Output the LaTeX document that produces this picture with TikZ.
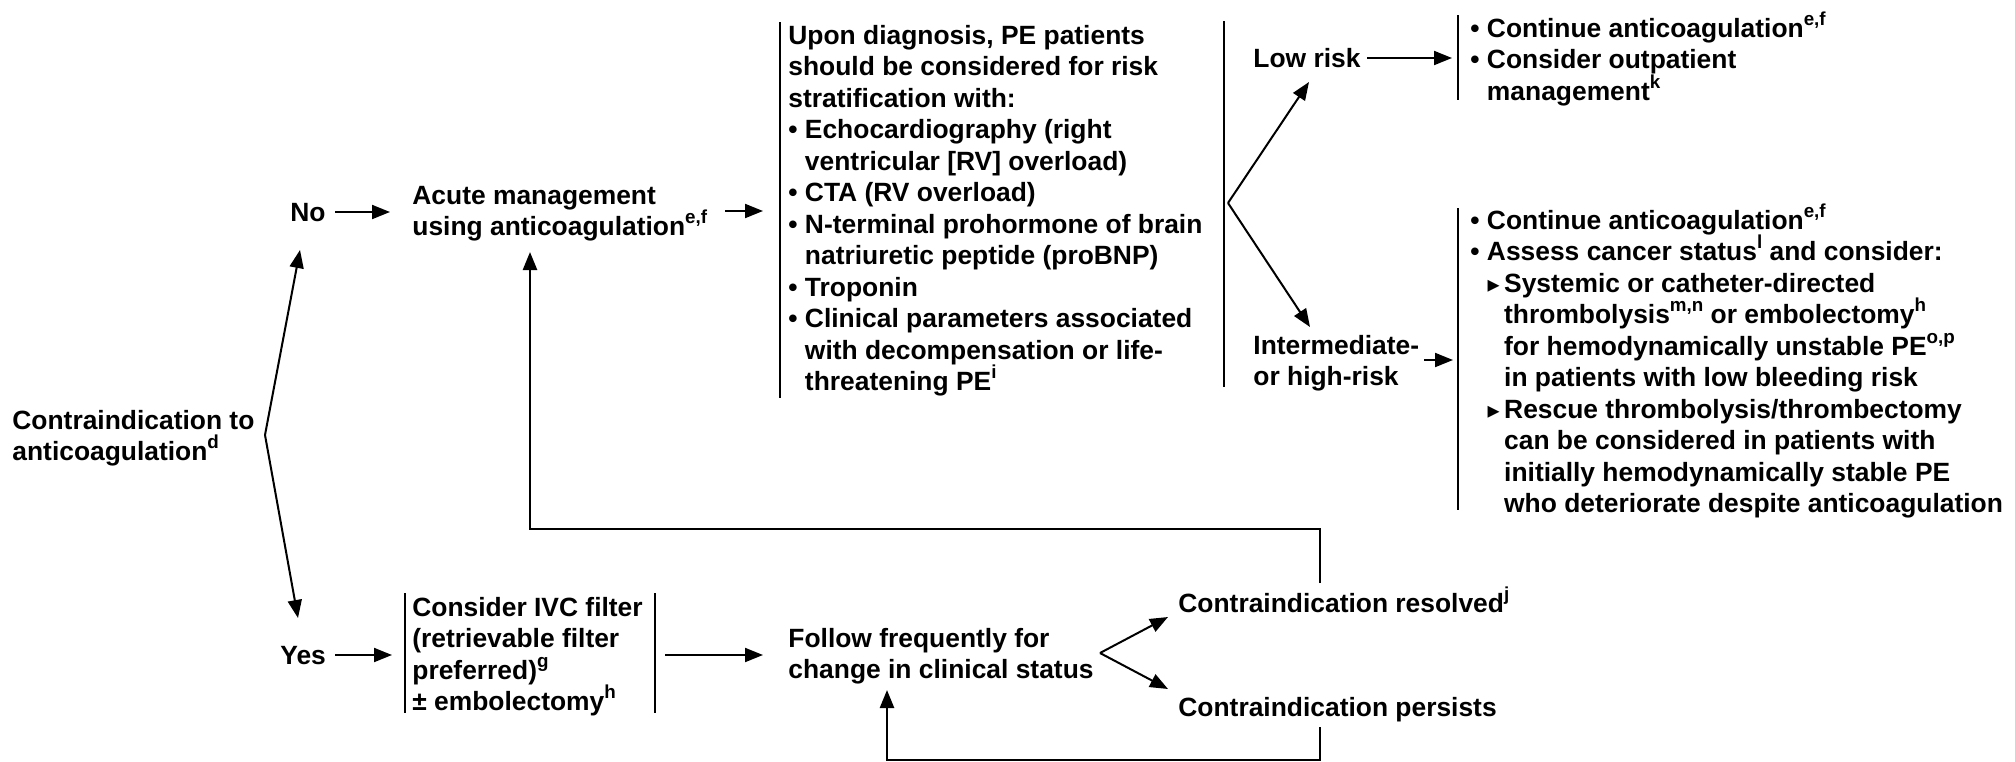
\documentclass[tikz,border=0pt]{standalone}
\usepackage{fontspec}
\setmainfont{Liberation Sans}
\newfontfamily\dejavu{DejaVu Sans}
\usetikzlibrary{arrows.meta}
\newcommand\sups[1]{\smash{\raisebox{0.45em}{\fontsize{9.4}{9.4}\selectfont #1}}}
\newcommand\tb[1]{\begin{tabular}[t]{@{}l@{}}#1\end{tabular}}
\newcommand\bul{•\ }
\newcommand\ind{\hphantom{•\ }}
\newcommand\tri{\makebox[8.6pt][l]{\hspace{0.3pt}\dejavu\fontsize{12}{12}\selectfont ▸}}
\newcommand\tind{\hphantom{\tri}}
\tikzset{
  txt/.style={inner sep=0pt, anchor=base west, font=\fontsize{13.2}{15.75}\selectfont\bfseries},
  arr/.style={line width=1pt, -{Triangle[length=9pt,width=7pt]}},
  ln/.style={line width=1pt},
  fb/.style={line width=1.25pt, -{Triangle[length=9pt,width=7pt]}},
}
\begin{document}
\begin{tikzpicture}[x=0.5pt,y=-0.5pt]
\useasboundingbox (0,0) rectangle (2015,761);
% text nodes
\node[txt] (contra) at (12,429) {\tb{Contraindication to\\anticoagulation\sups{d}}};
\node[txt] (no) at (290,221) {No};
\node[txt] (yes) at (280,664) {Yes};
\node[txt] (acute) at (412,204) {\tb{Acute management\\using anticoagulation\sups{e,f}}};
\node[txt] (upon) at (788,44) {\tb{Upon diagnosis, PE patients\\
should be considered for risk\\
stratification with:\\
\bul Echocardiography (right\\
\ind ventricular [RV] overload)\\
\bul CTA (RV overload)\\
\bul N-terminal prohormone of brain\\
\ind natriuretic peptide (proBNP)\\
\bul Troponin\\
\bul Clinical parameters associated\\
\ind with decompensation or life-\\
\ind threatening PE\sups{i}}};
\node[txt] (low) at (1253,67) {Low risk};
\node[txt] (inter) at (1253,354) {\tb{Intermediate-\\or high-risk}};
\node[txt] (rtop) at (1470,37) {\tb{\bul Continue anticoagulation\sups{e,f}\\
\bul Consider outpatient\\
\ind management\sups{k}}};
\node[txt] (rbot) at (1470,229) {\tb{\bul Continue anticoagulation\sups{e,f}\\
\bul Assess cancer status\sups{l} and consider:\\
\ind\tri Systemic or catheter-directed\\
\ind\tind thrombolysis\sups{m,n} or embolectomy\sups{h}\\
\ind\tind for hemodynamically unstable PE\sups{o,p}\\
\ind\tind in patients with low bleeding risk\\
\ind\tri Rescue thrombolysis/thrombectomy\\
\ind\tind can be considered in patients with\\
\ind\tind initially hemodynamically stable PE\\
\ind\tind who deteriorate despite anticoagulation}};
\node[txt] (ivc) at (412,616) {\tb{Consider IVC filter\\(retrievable filter\\preferred)\sups{g}\\± embolectomy\sups{h}}};
\node[txt] (follow) at (788,647) {\tb{Follow frequently for\\change in clinical status}};
\node[txt] (res) at (1178,612) {Contraindication resolved\sups{j}};
\node[txt] (per) at (1178,716) {Contraindication persists};
% brackets
\draw[ln] (780,22) -- (780,398);
\draw[ln] (1224,21) -- (1224,387);
\draw[ln] (1458,15) -- (1458,100);
\draw[ln] (1458,208) -- (1458,510);
\draw[ln] (405,593) -- (405,713);
\draw[ln] (655,593) -- (655,713);
% coordinates
\coordinate (cv) at (265,435);
\coordinate (noB) at (300,250);
\coordinate (yesT) at (298,618);
\coordinate (noR) at (335,212);
\coordinate (acL) at (390,212);
\coordinate (acR) at (725,211);
\coordinate (upL) at (763,211);
\coordinate (rv) at (1228,203);
\coordinate (lowB) at (1309,82);
\coordinate (intT) at (1310,327);
\coordinate (lowR) at (1367,58);
\coordinate (rtL) at (1452,58);
\coordinate (intR) at (1424,360);
\coordinate (rbL) at (1453,360);
\coordinate (yesR) at (335,655);
\coordinate (ivcL) at (392,655);
\coordinate (ivcR) at (665,655);
\coordinate (folL) at (763,655);
\coordinate (fv) at (1100,653);
\coordinate (resB) at (1168,617);
\coordinate (perT) at (1168,689);
\coordinate (resD) at (1320,583);
\coordinate (fb1) at (1320,529);
\coordinate (fb2) at (530,529);
\coordinate (acB) at (530,252);
\coordinate (perD) at (1320,727);
\coordinate (fb3) at (1320,760);
\coordinate (fb4) at (887,760);
\coordinate (folB) at (887,690);
% connectors
\draw[arr] (cv) -- (noB);
\draw[arr] (cv) -- (yesT);
\draw[arr] (noR) -- (acL);
\draw[arr] (acR) -- (upL);
\draw[arr] (rv) -- (lowB);
\draw[arr] (rv) -- (intT);
\draw[arr] (lowR) -- (rtL);
\draw[arr] (intR) -- (rbL);
\draw[arr] (yesR) -- (ivcL);
\draw[arr] (ivcR) -- (folL);
\draw[arr] (fv) -- (resB);
\draw[arr] (fv) -- (perT);
\draw[fb] (resD) -- (fb1) -- (fb2) -- (acB);
\draw[fb] (perD) -- (fb3) -- (fb4) -- (folB);
\end{tikzpicture}
\end{document}
